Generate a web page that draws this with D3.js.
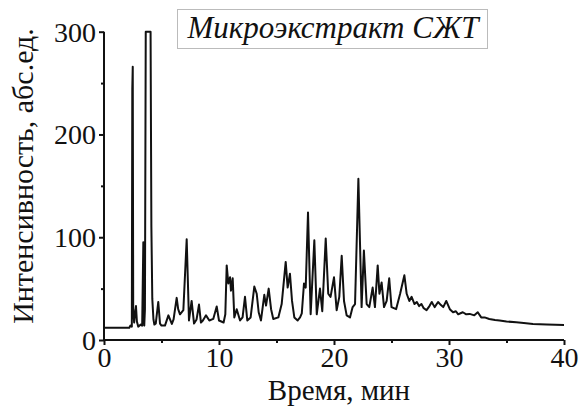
<!DOCTYPE html>
<html>
<head>
<meta charset="utf-8">
<script src="https://cdn.jsdelivr.net/npm/d3@7"></script>
</head>
<body style="margin:0">
<script>
// Chromatogram: retention time (min) and detector intensity (abs. units)
const times = [
  0, 2.2, 2.3, 2.42, 2.46, 2.5, 2.54, 2.62, 2.7, 2.78, 2.86, 2.98, 3.2, 3.32, 3.42, 3.5, 3.56, 3.63,
  4.05, 4.12, 4.2, 4.3, 4.38, 4.5, 4.72, 4.87, 5.0, 5.3, 5.6, 5.9, 6.05, 6.32, 6.45, 6.61, 6.9,
  7.19, 7.39, 7.62, 7.83, 8.05, 8.26, 8.43, 8.6, 8.87, 9.16, 9.5, 9.8, 10.0, 10.4, 10.55, 10.67,
  10.81, 10.96, 11.04, 11.19, 11.33, 11.54, 11.83, 12.05, 12.26, 12.46, 12.75, 13.07, 13.28, 13.45,
  13.65, 13.94, 14.09, 14.32, 14.53, 14.72, 15.16, 15.45, 15.8, 15.97, 16.17, 16.35, 16.55, 16.84,
  17.05, 17.2, 17.39, 17.54, 17.74, 17.97, 18.29, 18.5, 18.78, 18.98, 19.28, 19.5, 19.7, 20.0,
  20.23, 20.46, 20.67, 20.87, 21.1, 21.39, 21.62, 21.83, 22.12, 22.4, 22.6, 22.84, 23.07, 23.36,
  23.56, 23.8, 23.95, 24.14, 24.35, 24.58, 24.8, 25.0, 25.4, 25.75, 26.12, 26.32, 26.55, 26.75,
  27.0, 27.2, 27.4, 27.6, 27.8, 28.05, 28.3, 28.5, 28.75, 29.05, 29.3, 29.5, 29.76, 30.07, 30.35,
  30.6, 30.8, 31.0, 31.2, 31.5, 31.8, 32.2, 32.5, 32.8, 33.1, 33.5, 34.0, 34.4, 35.0, 35.85, 36.5,
  37.3, 38.5, 40
];
const intensity = [
  12, 12, 14, 13, 244, 266, 30, 17, 26, 33, 18, 13, 15, 14, 95, 14, 30, 300,
  300, 110, 40, 20, 15, 16, 37, 16, 14, 14, 24, 15.6, 20, 41, 30, 25, 29,
  98, 19, 38, 16, 20, 34.5, 17, 19, 24, 19, 20.5, 32.6, 19, 17, 25, 72.6,
  55, 61, 48, 60, 22, 30, 19, 22, 42, 19, 22, 52, 45, 27,
  19, 44, 33.5, 50, 30, 20.5, 22, 35, 76, 51, 64.5, 38, 22, 19,
  22, 26, 55, 51, 124, 25, 97, 25, 50, 28, 98.7, 45, 42, 61,
  29, 42, 82, 38, 24, 22, 32, 35, 157, 32, 87, 35, 32, 51,
  32, 72.6, 45, 56, 32, 38, 60, 32, 30, 45, 63, 45, 38, 42,
  35, 37, 33, 35, 31, 29, 33, 37, 32, 37, 34, 32, 38, 30, 27,
  28, 25, 26, 27, 25, 25.4, 24, 27, 22, 22, 20.5, 19.5, 19, 18, 17.2, 16.5,
  15.6, 15.2, 14.7
];

const xTicks = [0, 10, 20, 30, 40];
const xMinorTicks = [5, 15, 25, 35];
const yTicks = [0, 100, 200, 300];
const yMinorTicks = [50, 150, 250];

const xTitle = "Время, мин";
const yTitle = "Интенсивность, абс.ед.";
const legendText = "Микроэкстракт СЖТ";

const SERIF = "Liberation Serif";
const INK = "#111";

const svg = d3.select("body").append("svg")
  .attr("width", 581).attr("height", 406)
  .attr("font-family", SERIF);

const x = d3.scaleLinear().domain([0, 40]).range([104, 564]);
const y = d3.scaleLinear().domain([0, 300]).range([340, 31.7]);

// chromatogram trace
const data = times.map((t, i) => [t, intensity[i]]);
const line = d3.line().x(d => x(d[0])).y(d => y(d[1]));
svg.append("path").datum(data)
  .attr("d", line)
  .attr("fill", "none")
  .attr("stroke", INK)
  .attr("stroke-width", 2)
  .attr("stroke-linejoin", "round");

// axes: major ticks labelled, minor ticks bare, all pointing outward
const xAxis = svg.append("g").attr("transform", `translate(0,${y(0)})`)
  .call(d3.axisBottom(x).tickValues(xTicks).tickSize(5).tickPadding(3).tickFormat(d3.format("d")));
svg.append("g").attr("transform", `translate(0,${y(0)})`)
  .call(d3.axisBottom(x).tickValues(xMinorTicks).tickSize(3).tickFormat(""))
  .call(g => g.select(".domain").remove());
const yAxis = svg.append("g").attr("transform", `translate(${x(0)},0)`)
  .call(d3.axisLeft(y).tickValues(yTicks).tickSize(5).tickPadding(3).tickFormat(d3.format("d")));
svg.append("g").attr("transform", `translate(${x(0)},0)`)
  .call(d3.axisLeft(y).tickValues(yMinorTicks).tickSize(3).tickFormat(""))
  .call(g => g.select(".domain").remove());

xAxis.select(".domain").attr("d", `M${x(0)},0H${x(40)}`);
yAxis.select(".domain").attr("d", `M0,${y(0)}V${y(300)}`);

svg.selectAll("g").attr("font-family", null).attr("font-size", null);
svg.selectAll(".tick line, .domain").attr("stroke", INK).attr("stroke-width", 2);
svg.selectAll(".tick text").attr("font-size", 28).attr("fill", INK);
xAxis.selectAll(".tick text").attr("dy", "0.68em");
yAxis.selectAll(".tick text").attr("dy", "0.34em");

// axis titles
svg.append("text").attr("x", 339).attr("y", 400)
  .attr("text-anchor", "middle").attr("fill", INK)
  .attr("font-size", 29).text(xTitle);
svg.append("text").attr("transform", "translate(33,176) rotate(-90)")
  .attr("text-anchor", "middle").attr("fill", INK)
  .attr("font-size", 30).text(yTitle);

// legend box
svg.append("rect").attr("x", 177.5).attr("y", 9.5).attr("width", 310).attr("height", 39)
  .attr("fill", "#fff").attr("stroke", "#bbb").attr("stroke-width", 1);
svg.append("text").attr("x", 333).attr("y", 38)
  .attr("text-anchor", "middle").attr("fill", INK)
  .attr("font-size", 31).attr("font-style", "italic")
  .text(legendText);
</script>
</body>
</html>
